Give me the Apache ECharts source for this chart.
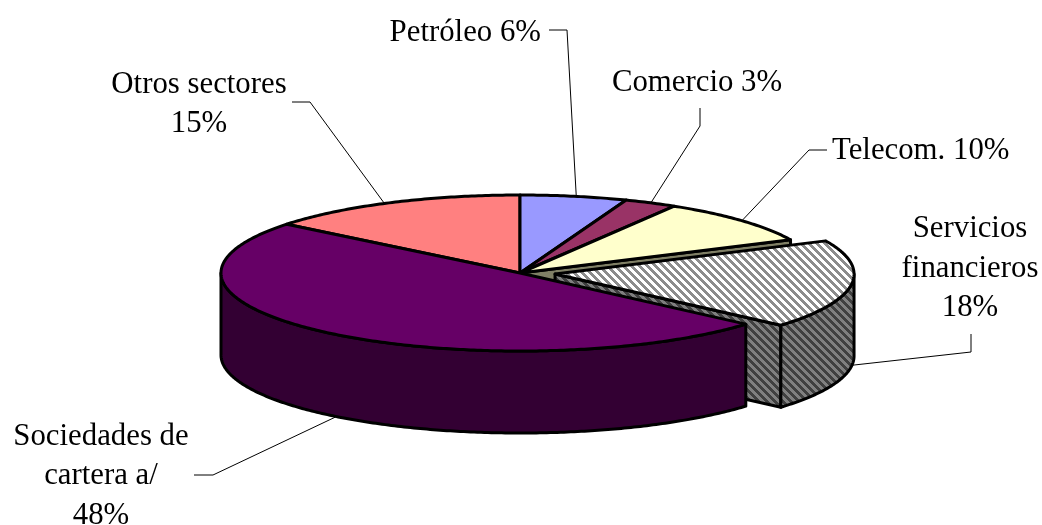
<!DOCTYPE html>
<html>
<head>
<meta charset="utf-8">
<style>html,body{margin:0;padding:0;background:#fff}#main{width:1042px;height:525px}</style>
</head>
<body>
<div id="main"></div>
<script src="https://cdn.jsdelivr.net/npm/echarts@6/dist/echarts.min.js"></script>
<script>
// datos, en sentido horario desde arriba
const names = ['Petróleo', 'Comercio', 'Telecom.', 'Servicios\nfinancieros', 'Sociedades de\ncartera a/', 'Otros sectores'];
const values = [6, 3, 10, 18, 48, 15];

// estilo de cada porcion
const topColors = ['#9999ff', '#993366', '#ffffcc', 'stripeTop', '#660066', '#ff8080'];
const wallColors = ['#666699', '#4d1a33', '#808066', 'stripeWall', '#330033', '#804040'];
const exploded = [0, 0, 0, 0.118, 0, 0];
const paintOrder = [5, 0, 1, 2, 3, 4]; // de atras hacia adelante

// geometria de la vista 3D
const cx = 520, cy = 273, rx = 299, ry = 78, depth = 82;

// etiquetas: posicion del texto, codo de la linea guia y ajuste del punto de contacto (grados)
const labelPos = [
  { x: 541, y: 33, align: 'right', sep: ' ', elbow: [[549, 30], [567, 30]], nudge: 0.4 },
  { x: 697, y: 83, align: 'center', sep: ' ', elbow: [[700, 108], [700, 126]], nudge: 0 },
  { x: 832, y: 151, align: 'left', sep: ' ', elbow: [[827, 150], [809, 150]], nudge: 0 },
  { x: 970, y: 268.5, align: 'center', sep: '\n', elbow: [[971, 334], [971, 352]], nudge: 0 },
  { x: 101, y: 476, align: 'center', sep: '\n', elbow: [[194, 475], [213, 475]], nudge: -3.5 },
  { x: 199, y: 104.5, align: 'center', sep: '\n', elbow: [[292, 102], [310, 102]], nudge: -1 }
];

const rad = d => d * Math.PI / 180;
// deformacion de la perspectiva sobre el angulo
const warp = t => t - 3.6 * Math.sin(rad(t)) + 0.6 * Math.sin(rad(3 * t));
const total = values.reduce((a, b) => a + b, 0);

// angulos ya dibujados de cada porcion
let acc = 0;
const slices = values.map((v, i) => {
  const t0 = acc / total * 360;
  acc += v;
  const t1 = acc / total * 360;
  const m = warp((t0 + t1) / 2);
  const e = exploded[i];
  return { a: warp(t0), b: warp(t1), mid: m, ox: cx + e * rx * Math.sin(rad(m)), oy: cy - e * ry * Math.cos(rad(m)) };
});

const rim = (s, ang, dy) => [s.ox + rx * Math.sin(rad(ang)), s.oy - ry * Math.cos(rad(ang)) + (dy || 0)];

const arc = (s, from, to, dy) => {
  const pts = [];
  const n = Math.max(2, Math.ceil(Math.abs(to - from) * 1.5));
  for (let k = 0; k <= n; k++) pts.push(rim(s, from + (to - from) * k / n, dy));
  return pts;
};

// tramas de rayas diagonales
const stripes = (c1, c2) => {
  const cv = document.createElement('canvas');
  cv.width = cv.height = 8;
  const g = cv.getContext('2d');
  for (let y = 0; y < 8; y++) {
    for (let x = 0; x < 8; x++) {
      g.fillStyle = ((x - y + 8) % 8) < 4 ? c1 : c2;
      g.fillRect(x, y, 1, 1);
    }
  }
  return { image: cv, repeat: 'repeat' };
};
const fills = {
  stripeTop: stripes('#ffffff', '#8c8c8c'),
  stripeWall: stripes('#808080', '#404040')
};
const fillOf = c => fills[c] || c;
const edge = { stroke: '#000', lineWidth: 3, lineJoin: 'round' };

const poly = (points, fill, z2) => ({
  type: 'polygon',
  z2: z2,
  shape: { points: points },
  style: Object.assign({ fill: fillOf(fill) }, edge)
});

const renderSlice = (params, api) => {
  const i = api.value(0);
  const s = slices[i];
  const z = paintOrder.indexOf(i) * 10;
  const children = [];
  const next = (i + 1) % slices.length;
  // pared radial, solo si queda al descubierto por la porcion separada
  if (Math.sin(rad(s.b)) > 0 && (exploded[i] || exploded[next])) {
    const p = rim(s, s.b);
    children.push(poly([[s.ox, s.oy], p, [p[0], p[1] + depth], [s.ox, s.oy + depth]], wallColors[i], z));
  }
  // pared exterior, mitad delantera de la elipse
  const from = Math.max(s.a, 90), to = Math.min(s.b, 270);
  if (to > from) {
    children.push(poly(arc(s, from, to).concat(arc(s, to, from, depth)), wallColors[i], z + 1));
  }
  // cara superior
  children.push(poly([[s.ox, s.oy]].concat(arc(s, s.a, s.b)), topColors[i], z + 2));
  return { type: 'group', children: children };
};

const renderLabel = (params, api) => {
  const i = api.value(0);
  const s = slices[i];
  const l = labelPos[i];
  const front = Math.cos(rad(s.mid)) < 0;
  const anchor = rim(s, s.mid + l.nudge, front ? depth : 0);
  return {
    type: 'group',
    children: [
      {
        type: 'polyline',
        shape: { points: l.elbow.concat([anchor]) },
        style: { stroke: '#000', lineWidth: 1, fill: null }
      },
      {
        type: 'text',
        style: {
          text: names[i] + l.sep + values[i] + '%',
          x: l.x,
          y: l.y,
          align: l.align,
          verticalAlign: 'middle',
          font: '30.8px "Liberation Serif"',
          lineHeight: 39.5,
          fill: '#000'
        }
      }
    ]
  };
};

const myChart = echarts.init(document.getElementById('main'));
myChart.setOption({
  animation: false,
  backgroundColor: '#fff',
  series: [
    {
      type: 'custom',
      coordinateSystem: 'none',
      z: 1,
      silent: true,
      data: paintOrder.map(i => [i]),
      renderItem: renderLabel
    },
    {
      type: 'custom',
      coordinateSystem: 'none',
      z: 2,
      silent: true,
      data: paintOrder.map(i => [i]),
      renderItem: renderSlice
    }
  ]
});
</script>
</body>
</html>
